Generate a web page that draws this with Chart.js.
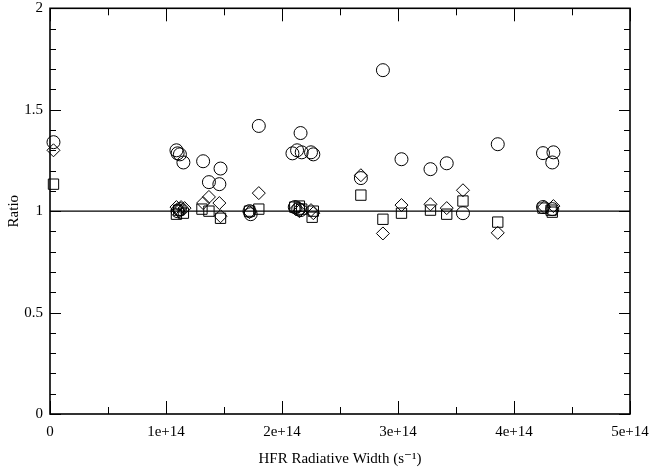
<!DOCTYPE html>
<html>
<head>
<meta charset="utf-8">
<script src="https://cdn.jsdelivr.net/npm/chart.js@4.4.0/dist/chart.umd.min.js"></script>
<style>
html, body { margin: 0; padding: 0; background: #fff; }
</style>
</head>
<body>
<canvas id="ratio_chart" width="656" height="468"></canvas>
<script>
// values: x is the HFR radiative width (s^-1), y the ratio
const circle_x = [0.03e14, 1.09e14, 1.10e14, 1.12e14, 1.15e14, 1.10e14, 1.12e14, 1.32e14, 1.37e14, 1.46e14, 1.47e14,
    1.72e14, 1.73e14, 1.80e14, 2.09e14, 2.13e14, 2.16e14, 2.17e14, 2.25e14, 2.27e14, 2.11e14, 2.14e14, 2.16e14,
    2.68e14, 2.87e14, 3.03e14, 3.28e14, 3.42e14, 3.56e14, 3.86e14, 4.25e14, 4.34e14, 4.33e14, 4.25e14, 4.33e14];
const circle_y = [1.34, 1.30, 1.285, 1.28, 1.24, 1.00, 1.01, 1.246, 1.143, 1.133, 1.21,
    1.00, 0.985, 1.42, 1.285, 1.30, 1.385, 1.29, 1.29, 1.28, 1.02, 1.01, 1.005,
    1.163, 1.695, 1.256, 1.207, 1.236, 0.99, 1.33, 1.286, 1.29, 1.24, 1.02, 1.01];

const diamond_x = [0.03e14, 1.09e14, 1.13e14, 1.16e14, 1.11e14, 1.32e14, 1.37e14, 1.46e14, 1.47e14, 1.72e14, 1.80e14,
    2.12e14, 2.15e14, 2.27e14, 2.25e14, 2.68e14, 2.87e14, 3.03e14, 3.28e14, 3.42e14, 3.56e14, 3.86e14, 4.26e14, 4.34e14];
const diamond_y = [1.30, 1.02, 1.02, 1.015, 1.00, 1.04, 1.07, 1.04, 0.975, 0.995, 1.089,
    1.01, 1.00, 0.99, 1.005, 1.177, 0.89, 1.03, 1.034, 1.015, 1.103, 0.893, 1.02, 1.025];

const square_x = [0.03e14, 1.09e14, 1.11e14, 1.15e14, 1.31e14, 1.37e14, 1.47e14, 1.72e14, 1.80e14,
    2.11e14, 2.15e14, 2.17e14, 2.26e14, 2.27e14, 2.68e14, 2.87e14, 3.03e14, 3.28e14, 3.42e14, 3.56e14, 3.86e14,
    4.25e14, 4.32e14, 4.33e14];
const square_y = [1.133, 0.985, 1.005, 0.99, 1.01, 1.00, 0.965, 1.00, 1.01,
    1.02, 1.025, 1.01, 0.97, 1.00, 1.079, 0.96, 0.99, 1.005, 0.985, 1.05, 0.946,
    1.015, 1.005, 0.995];

// the unit-ratio reference line
const unity_x = [0, 5e14];
const unity_y = [1, 1];

const x_tick_labels = ["0", "1e+14", "2e+14", "3e+14", "4e+14", "5e+14"];
const y_tick_labels = ["0", "0.5", "1", "1.5", "2"];

function to_points(xs, ys)
{
    return xs.map((v, i) => ({ x: v, y: ys[i] }));
}

const serif = "'Liberation Serif', 'DejaVu Serif', serif";

// grace-style frame with inward major/minor ticks on all four sides
const frame_ticks =
{
    id: "frame_ticks",
    afterDatasetsDraw(chart)
    {
        const { ctx, chartArea: a, scales: { x, y } } = chart;
        ctx.save();
        ctx.strokeStyle = "#000";
        ctx.lineWidth = 1;
        ctx.beginPath();
        for (let i = 0; i <= 10; i++)
        {
            const px = Math.round(x.getPixelForValue(i * 0.5e14)) + 0.5;
            const len = i % 2 === 0 ? 13 : 7;
            ctx.moveTo(px, a.bottom); ctx.lineTo(px, a.bottom - len);
            ctx.moveTo(px, a.top); ctx.lineTo(px, a.top + len);
        }
        for (let i = 0; i <= 20; i++)
        {
            const py = Math.round(y.getPixelForValue(i * 0.1)) + 0.5;
            const len = i % 5 === 0 ? 11 : 6;
            ctx.moveTo(a.left, py); ctx.lineTo(a.left + len, py);
            ctx.moveTo(a.right, py); ctx.lineTo(a.right - len, py);
        }
        ctx.stroke();
        ctx.lineWidth = 1.6;
        ctx.strokeRect(a.left, a.top, a.right - a.left, a.bottom - a.top);
        ctx.restore();
    }
};

const marker =
{
    showLine: false,
    borderColor: "#000",
    backgroundColor: "rgba(0,0,0,0)",
    borderWidth: 1,
    clip: false
};

const ratio_chart = new Chart("ratio_chart",
{
    type: "scatter",
    data:
    {
        datasets:
        [
            {
                label: "unity",
                type: "line",
                data: to_points(unity_x, unity_y),
                borderColor: "#000",
                borderWidth: 1.3,
                pointRadius: 0
            },
            Object.assign({ label: "circle", data: to_points(circle_x, circle_y), pointStyle: "circle", pointRadius: 6.5 }, marker),
            Object.assign({ label: "diamond", data: to_points(diamond_x, diamond_y), pointStyle: "rectRot", pointRadius: 6.5 }, marker),
            Object.assign({ label: "square", data: to_points(square_x, square_y), pointStyle: "rect", pointRadius: 7.3 }, marker)
        ]
    },
    options:
    {
        responsive: false,
        animation: false,
        layout: { padding: 0 },
        plugins:
        {
            legend: { display: false },
            tooltip: { enabled: false }
        },
        scales:
        {
            x:
            {
                type: "linear",
                min: 0,
                max: 5e14,
                grid: { display: false, drawTicks: false },
                border: { display: false },
                ticks:
                {
                    stepSize: 1e14,
                    padding: 9,
                    color: "#000",
                    font: { family: serif, size: 15 },
                    maxRotation: 0,
                    callback: (v, i) => x_tick_labels[i]
                },
                title:
                {
                    display: true,
                    text: "HFR Radiative Width (s\u207B\u00B9)",
                    color: "#000",
                    font: { family: serif, size: 15 },
                    padding: { top: 6, bottom: 0 }
                },
                afterFit: (scale) =>
                {
                    scale.height = 54;
                    scale.paddingLeft = 0;
                    scale.paddingRight = 26;
                }
            },
            y:
            {
                min: 0,
                max: 2,
                grid: { display: false, drawTicks: false },
                border: { display: false },
                ticks:
                {
                    stepSize: 0.5,
                    padding: 7,
                    color: "#000",
                    font: { family: serif, size: 15 },
                    callback: (v, i) => y_tick_labels[i]
                },
                title:
                {
                    display: true,
                    text: "Ratio",
                    color: "#000",
                    font: { family: serif, size: 15 },
                    padding: { top: 5, bottom: 0 }
                },
                afterFit: (scale) =>
                {
                    scale.width = 50;
                    scale.paddingTop = 8;
                    scale.paddingBottom = 0;
                }
            }
        }
    },
    plugins: [frame_ticks]
});
</script>
</body>
</html>
